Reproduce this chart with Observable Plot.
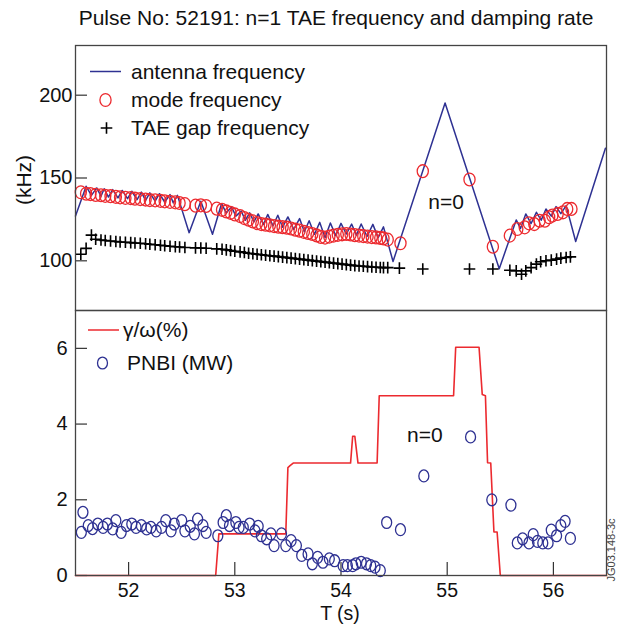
<!DOCTYPE html>
<html><head><meta charset="utf-8">
<script src="https://cdn.jsdelivr.net/npm/d3@7"></script>
<script src="https://cdn.jsdelivr.net/npm/@observablehq/plot@0.6"></script>
<style>
body{margin:0;background:#fff;font-family:"Liberation Sans",Arial,Helvetica,sans-serif;}
#chart{position:relative;width:617px;height:627px;overflow:hidden;background:#fff;}
#title{height:36px;line-height:36px;font-size:21px;color:#111;padding-left:55px;text-align:center;white-space:nowrap;}
svg{display:block;overflow:visible;}
</style></head><body><div id="chart"><div id="title">Pulse No: 52191: n=1 TAE frequency and damping rate</div></div>
<script>
// ---------- data ----------
const antennaTime = [51.50,51.60,51.65,51.70,51.74,51.77,51.81,51.85,51.90,51.94,51.99,52.03,52.08,52.12,52.16,52.20,52.25,52.29,52.34,52.39,52.42,52.46,52.57,52.68,52.79,52.875,52.92,52.97,53.01,53.06,53.10,53.14,53.18,53.22,53.27,53.31,53.36,53.405,53.45,53.50,53.555,53.61,53.655,53.70,53.75,53.80,53.85,53.90,53.95,54.00,54.05,54.10,54.145,54.19,54.245,54.30,54.35,54.40,54.49,54.98,55.49,55.65,55.69,55.74,55.79,55.84,55.885,55.93,55.98,56.025,56.07,56.12,56.21,56.49];
const antennaFreq = [127.0,145.0,139.5,144.0,139.0,143.5,138.5,143.0,138.0,142.5,137.5,142.0,137.0,141.5,136.5,141.0,136.0,140.5,135.5,140.0,135.0,139.5,117.0,136.0,116.0,134.5,129.0,132.5,127.0,130.0,124.5,129.0,123.5,128.3,122.0,128.0,121.2,127.5,120.3,126.5,119.0,125.5,117.5,124.2,116.0,123.2,114.0,122.8,115.2,122.6,116.2,122.2,115.5,122.2,114.7,122.0,114.0,120.5,99.6,195.3,95.2,124.7,119.5,128.3,122.5,129.3,124.5,131.3,127.0,132.7,128.5,133.3,111.7,168.0];

const modeTime = [51.55,51.60,51.64,51.69,51.74,51.78,51.83,51.88,51.92,51.97,52.02,52.06,52.11,52.16,52.20,52.25,52.30,52.34,52.39,52.44,52.48,52.53,52.63,52.68,52.73,52.83,52.88,52.92,52.96,53.00,53.05,53.09,53.13,53.17,53.21,53.25,53.29,53.33,53.37,53.41,53.45,53.49,53.53,53.57,53.61,53.65,53.69,53.73,53.77,53.81,53.85,53.89,53.93,53.97,54.01,54.05,54.09,54.13,54.17,54.21,54.25,54.29,54.33,54.37,54.40,54.44,54.56,54.77,55.21,55.43,55.59,55.66,55.73,55.77,55.82,55.87,55.92,55.96,55.99,56.04,56.09,56.13,56.17];
const modeFreq = [141.4,140.5,140.3,139.8,139.6,139.2,139.0,138.6,138.3,138.0,137.9,137.5,137.3,137.0,136.7,136.5,136.2,135.9,135.6,135.3,134.9,134.2,133.3,133.5,133.1,131.5,130.8,129.8,129.0,128.0,127.0,125.8,124.8,123.8,122.8,122.2,121.8,121.4,121.0,120.6,120.3,120.0,119.5,118.8,118.2,117.5,116.8,116.2,115.3,114.4,114.0,114.6,115.2,115.7,116.0,116.2,115.9,115.5,115.2,114.9,114.6,114.3,114.1,113.8,113.5,112.8,110.6,154.1,149.1,108.5,115.2,119.2,120.2,122.6,122.2,124.2,124.2,126.3,127.3,128.3,129.3,131.3,131.3];

const gapTime = [51.55,51.60,51.65,51.69,51.74,51.78,51.83,51.88,51.92,51.97,52.02,52.06,52.11,52.16,52.20,52.25,52.30,52.34,52.39,52.44,52.48,52.53,52.63,52.68,52.73,52.83,52.88,52.92,52.96,53.00,53.05,53.09,53.13,53.17,53.21,53.25,53.29,53.33,53.37,53.41,53.45,53.49,53.53,53.57,53.61,53.65,53.69,53.73,53.77,53.81,53.85,53.89,53.93,53.97,54.01,54.05,54.09,54.13,54.17,54.21,54.25,54.29,54.33,54.37,54.40,54.44,54.55,54.77,55.21,55.43,55.59,55.65,55.70,55.74,55.79,55.84,55.88,55.93,55.98,56.03,56.07,56.12,56.16];
const gapFreq = [104.0,107.5,115.5,113.0,112.6,112.3,112.0,111.7,111.4,111.2,111.0,110.8,110.6,110.3,110.0,109.7,109.4,109.1,108.8,108.5,108.3,108.0,107.8,107.7,107.6,107.2,107.0,106.6,106.2,105.8,105.4,105.0,104.6,104.3,104.0,103.7,103.4,103.1,102.8,102.5,102.2,101.9,101.6,101.3,101.0,100.7,100.4,100.1,99.8,99.5,99.2,98.9,98.6,98.3,98.0,97.7,97.4,97.1,96.9,96.7,96.5,96.3,96.1,96.0,95.9,95.9,95.6,95.1,95.1,95.1,94.3,93.9,91.9,93.9,95.9,98.0,99.4,100.0,100.4,101.0,101.6,102.0,102.4];

const gammaTime = [51.50,52.82,52.85,53.48,53.50,53.52,53.55,54.09,54.11,54.13,54.16,54.34,54.36,55.06,55.08,55.30,55.33,55.36,55.38,55.41,55.44,55.47,55.50,56.50];
const gammaPct  = [0,0,1.10,1.10,2.85,2.90,2.97,2.97,3.68,3.68,2.97,2.97,4.75,4.75,6.03,6.03,4.78,4.75,2.98,2.97,1.15,1.15,0,0];

const pnbiTime = [51.555,51.57,51.62,51.66,51.71,51.76,51.80,51.85,51.88,51.93,51.98,52.03,52.07,52.12,52.17,52.21,52.26,52.31,52.35,52.40,52.43,52.50,52.53,52.58,52.62,52.65,52.70,52.73,52.84,52.89,52.92,52.95,53.01,53.04,53.08,53.14,53.19,53.22,53.25,53.30,53.34,53.37,53.44,53.48,53.53,53.58,53.63,53.69,53.73,53.78,53.83,53.89,53.94,54.02,54.06,54.11,54.14,54.19,54.24,54.28,54.32,54.37,54.43,54.56,54.78,55.22,55.42,55.60,55.66,55.71,55.77,55.81,55.85,55.90,55.95,55.98,56.03,56.07,56.11,56.16];
const pnbiMW = [1.14,1.67,1.32,1.24,1.36,1.27,1.36,1.23,1.45,1.14,1.32,1.36,1.27,1.32,1.23,1.27,1.18,1.27,1.45,1.18,1.36,1.45,1.18,1.30,1.10,1.49,1.32,1.14,1.05,1.40,1.58,1.32,1.40,1.27,1.27,1.36,1.18,1.30,1.05,0.97,1.10,0.79,1.10,0.79,0.92,0.79,0.53,0.57,0.31,0.48,0.35,0.44,0.39,0.26,0.26,0.26,0.31,0.35,0.31,0.26,0.22,0.13,1.40,1.21,2.63,3.66,2.00,1.86,0.86,0.97,0.86,1.08,0.90,0.86,0.86,1.20,1.05,1.32,1.43,0.98];

const xTicks = [52,53,54,55,56];
const yTicksTop = [100,150,200];
const yTicksBottom = [0,2,4,6];
const annTop = [{t:54.99, v:135.3, label:"n=0"}];
const annBottom = [{t:54.79, v:3.71, label:"n=0"}];

// ---------- build tables ----------
const zip = (a,b) => a.map((t,i)=>({t, v:b[i]}));
const antenna = zip(antennaTime, antennaFreq);
const mode = zip(modeTime, modeFreq);
const gap = zip(gapTime, gapFreq);
const gamma = zip(gammaTime, gammaPct);
const pnbi = zip(pnbiTime, pnbiMW);

// ---------- style ----------
const FONT = '"Liberation Sans", Arial, Helvetica, sans-serif';
const BLUE = "#2e3192", RED = "#ec2a2f", FRAME = "#444";
const W = 617, ML = 75, MR = 11, PW = W - ML - MR;

function ellipseSymbol(ax, ay){
  return {draw(ctx, size){
    const r = Math.sqrt(size/Math.PI), rx = r*ax, ry = r*ay, k = 0.5523;
    ctx.moveTo(rx,0);
    ctx.bezierCurveTo(rx, ry*k, rx*k, ry, 0, ry);
    ctx.bezierCurveTo(-rx*k, ry, -rx, ry*k, -rx, 0);
    ctx.bezierCurveTo(-rx, -ry*k, -rx*k, -ry, 0, -ry);
    ctx.bezierCurveTo(rx*k, -ry, rx, -ry*k, rx, 0);
    ctx.closePath();
  }};
}
const plusSymbol = {draw(ctx, size){
  const h = Math.sqrt(size/Math.PI);
  ctx.moveTo(-h,0); ctx.lineTo(h,0); ctx.moveTo(0,-h); ctx.lineTo(0,h);
}};
const redEll = ellipseSymbol(0.9, 1.04);
const blueEll = ellipseSymbol(0.86, 1.03);

const style = {fontFamily: FONT, fontSize: "20px", color: "#111", background: "transparent", overflow: "visible"};

// ---------- top panel ----------
const topPlot = Plot.plot({
  width: W, height: 274, marginLeft: ML, marginRight: MR, marginTop: 9, marginBottom: 0,
  style,
  x: {domain: [51.5, 56.5], axis: null},
  y: {domain: [70, 230]},
  marks: [
    Plot.axisY({ticks: yTicksTop, tickSize: 0, tickPadding: 3, tickFormat: d => String(d), label: null, fontSize: 20}),
    Plot.tickY(yTicksTop, {y: d => d, insetRight: PW - 12, stroke: "#333", strokeWidth: 1.2}),
    Plot.line(antenna, {x: "t", y: "v", stroke: BLUE, strokeWidth: 1.5}),
    Plot.dot(gap, {x: "t", y: "v", symbol: plusSymbol, r: 5.8, stroke: "#000", strokeWidth: 1.6, fill: "none"}),
    Plot.dot(mode, {x: "t", y: "v", symbol: redEll, r: 6.2, stroke: RED, strokeWidth: 1.3, fill: "none"}),
    Plot.text(annTop, {x: "t", y: "v", text: "label", fontSize: 21, fill: "#111"}),
    Plot.frame({stroke: FRAME, strokeWidth: 1.3})
  ]
});

// ---------- bottom panel ----------
const bottomPlot = Plot.plot({
  width: W, height: 317, marginLeft: ML, marginRight: MR, marginTop: 0, marginBottom: 52,
  style,
  x: {domain: [51.5, 56.5]},
  y: {domain: [0, 7]},
  marks: [
    Plot.axisX({ticks: xTicks, tickSize: 0, tickPadding: 8, tickFormat: d => String(d), label: null, fontSize: 19.5}),
    Plot.axisY({ticks: yTicksBottom, tickSize: 0, tickPadding: 8, tickFormat: d => String(d), label: null, fontSize: 20}),
    Plot.tickX(xTicks, {x: d => d, insetTop: 265 - 13, stroke: "#333", strokeWidth: 1.2}),
    Plot.tickY(yTicksBottom, {y: d => d, insetRight: PW - 12, stroke: "#333", strokeWidth: 1.2}),
    Plot.line(gamma, {x: "t", y: "v", stroke: RED, strokeWidth: 1.6}),
    Plot.dot(pnbi, {x: "t", y: "v", symbol: blueEll, r: 5.8, stroke: BLUE, strokeWidth: 1.3, fill: "none"}),
    Plot.text(annBottom, {x: "t", y: "v", text: "label", fontSize: 21, fill: "#111"}),
    Plot.frame({stroke: FRAME, strokeWidth: 1.3})
  ]
});

const chart = document.getElementById("chart");
chart.appendChild(topPlot);
chart.appendChild(bottomPlot);

// ---------- legends & labels ----------
const st = d3.select(topPlot).append("g").attr("font-family", FONT).attr("font-size", 21).attr("fill", "#111").attr("text-anchor", "start");
st.append("line").attr("x1", 90).attr("x2", 121).attr("y1", 35.5).attr("y2", 35.5).attr("stroke", BLUE).attr("stroke-width", 1.5);
st.append("text").attr("x", 131).attr("y", 35.5).attr("dy", "0.35em").text("antenna frequency");
st.append("path").attr("transform", "translate(105.5,64)").attr("d", d3.symbol(redEll, 6.2*6.2*Math.PI)()).attr("fill", "none").attr("stroke", RED).attr("stroke-width", 1.3);
st.append("text").attr("x", 131).attr("y", 64).attr("dy", "0.35em").text("mode frequency");
st.append("path").attr("transform", "translate(106.5,92)").attr("d", d3.symbol(plusSymbol, 5.8*5.8*Math.PI)()).attr("fill", "none").attr("stroke", "#000").attr("stroke-width", 1.6);
st.append("text").attr("x", 131).attr("y", 92).attr("dy", "0.35em").text("TAE gap frequency");
st.append("text").attr("transform", "translate(24,144) rotate(-90)").attr("text-anchor", "middle").attr("dy", "0.35em").text("(kHz)");

const sb = d3.select(bottomPlot).append("g").attr("font-family", FONT).attr("font-size", 21).attr("fill", "#111").attr("text-anchor", "start");
sb.append("line").attr("x1", 88).attr("x2", 119).attr("y1", 20).attr("y2", 20).attr("stroke", RED).attr("stroke-width", 1.5);
sb.append("text").attr("x", 123).attr("y", 20).attr("dy", "0.35em").text("γ/ω(%)");
sb.append("path").attr("transform", "translate(102.5,53)").attr("d", d3.symbol(blueEll, 5.8*5.8*Math.PI)()).attr("fill", "none").attr("stroke", BLUE).attr("stroke-width", 1.3);
sb.append("text").attr("x", 127).attr("y", 53).attr("dy", "0.35em").text("PNBI (MW)");
sb.append("text").attr("x", 340).attr("y", 304).attr("text-anchor", "middle").attr("dy", "0.32em").attr("font-size", 19.5).text("T (s)");
sb.append("text").attr("transform", "translate(615,240) rotate(-90)").attr("text-anchor", "middle").attr("font-size", 11).attr("fill", "#444").text("JG03.148-3c");
</script>
</body></html>
